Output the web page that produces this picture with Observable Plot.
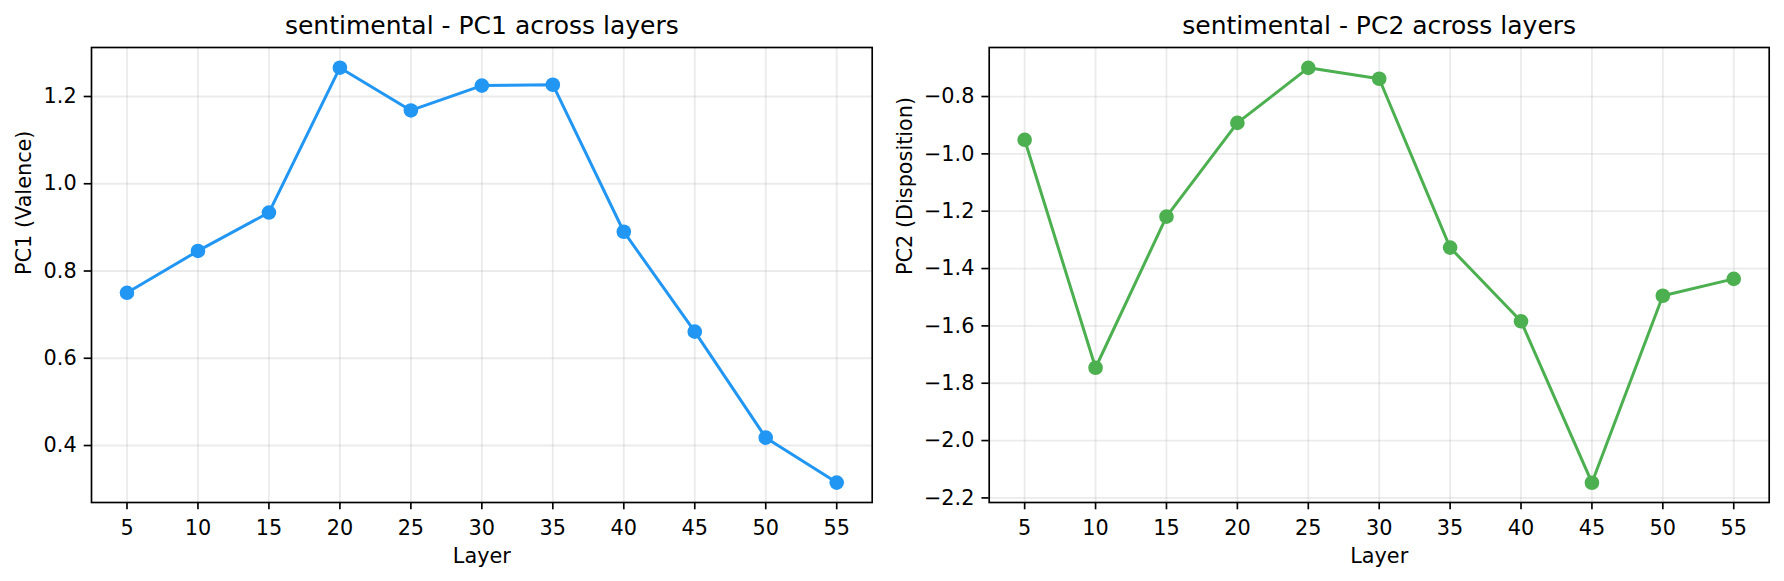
<!DOCTYPE html>
<html>
<head>
<meta charset="utf-8">
<script src="https://cdn.jsdelivr.net/npm/d3@7"></script>
<script src="https://cdn.jsdelivr.net/npm/@observablehq/plot@0.6"></script>
<style>
  html, body { margin: 0; padding: 0; background: #fff; }
  #row { display: flex; flex-direction: row; width: 1784px; height: 581px; }
</style>
</head>
<body>
<div id="row"></div>
<script>
const layers = [5, 10, 15, 20, 25, 30, 35, 40, 45, 50, 55];
const pc1 = [0.750, 0.846, 0.934, 1.266, 1.168, 1.225, 1.227, 0.890, 0.661, 0.418, 0.315];
const pc2 = [-0.951, -1.746, -1.219, -0.892, -0.700, -0.738, -1.327, -1.584, -2.147, -1.495, -1.436];
const pc1Ticks = [0.4, 0.6, 0.8, 1.0, 1.2];
const pc2Ticks = [-2.2, -2.0, -1.8, -1.6, -1.4, -1.2, -1.0, -0.8];
const titles = ["sentimental - PC1 across layers", "sentimental - PC2 across layers"];
const yLabels = ["PC1 (Valence)", "PC2 (Disposition)"];
const xLabel = "Layer";

const font = "DejaVu Sans";
const tickFont = 20.8;
const fmt = d3.format(".1f");

function panel({values, yTicks, yDomain, color, title, yLabel, marginLeft, marginRight, yLabelDx}) {
  const data = layers.map((l, i) => ({layer: l, value: values[i]}));
  const grid = {stroke: "#b0b0b0", strokeOpacity: 0.26, strokeWidth: 1.8};
  return Plot.plot({
    width: 892,
    height: 581,
    marginLeft,
    marginRight,
    marginTop: 47,
    marginBottom: 79,
    style: {fontFamily: font, fontSize: tickFont + "px", background: "#fff", color: "#000", overflow: "visible"},
    x: {domain: [2.5, 57.5]},
    y: {domain: yDomain},
    marks: [
      Plot.gridX(layers, grid),
      Plot.gridY(yTicks, grid),
      Plot.line(data, {x: "layer", y: "value", stroke: color, strokeWidth: 3}),
      Plot.dot(data, {x: "layer", y: "value", r: 7.3, fill: color, stroke: "none"}),
      Plot.frame({stroke: "#000", strokeWidth: 1.67}),
      Plot.axisX(layers, {tickSize: 7.3, tickPadding: 10, tickFormat: d => String(d), label: null, fontSize: tickFont, strokeWidth: 1.67}),
      Plot.axisY(yTicks, {tickSize: 7.3, tickPadding: 7.5, tickFormat: fmt, label: null, fontSize: tickFont, strokeWidth: 1.67}),
      Plot.text([title], {frameAnchor: "top", dy: -13.7, lineAnchor: "bottom", fontSize: 25, fill: "#000"}),
      Plot.text([xLabel], {frameAnchor: "bottom", dy: 60, lineAnchor: "bottom", fontSize: tickFont, fill: "#000"}),
      Plot.text([yLabel], {frameAnchor: "left", dx: yLabelDx, rotate: -90, lineAnchor: "bottom", fontSize: tickFont, fill: "#000"})
    ]
  });
}

const row = document.getElementById("row");
row.appendChild(panel({
  values: pc1, yTicks: pc1Ticks, yDomain: [0.2694, 1.3123], color: "#2196F3",
  title: titles[0], yLabel: yLabels[0], marginLeft: 91, marginRight: 20.3, yLabelDx: -60.7
}));
row.appendChild(panel({
  values: pc2, yTicks: pc2Ticks, yDomain: [-2.216, -0.629], color: "#4CAF50",
  title: titles[1], yLabel: yLabels[1], marginLeft: 96.7, marginRight: 15.3, yLabelDx: -77.7
}));
</script>
</body>
</html>
